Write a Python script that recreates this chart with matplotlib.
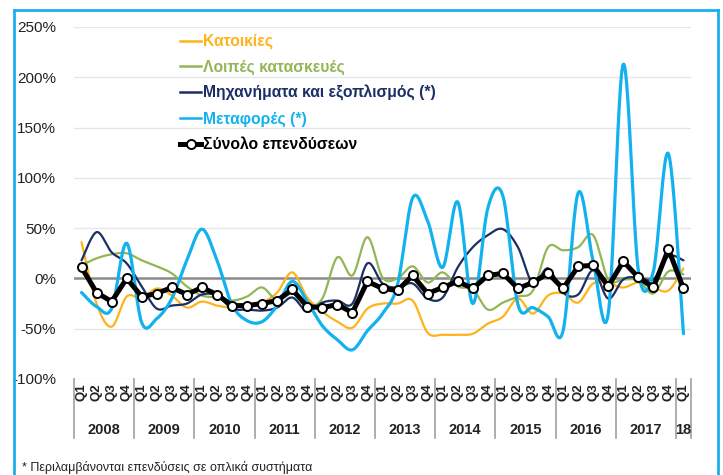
import numpy as np
import matplotlib
matplotlib.use("Agg")
import matplotlib.pyplot as plt
from matplotlib.lines import Line2D

plt.rcParams['font.family'] = ['Liberation Sans', 'DejaVu Sans']

# Τριμηνιαίες μεταβολές 2008Q1 - 2018Q1 (%)
years = ["2008", "2009", "2010", "2011", "2012", "2013", "2014", "2015", "2016", "2017", "18"]
quarters = ["Q1", "Q2", "Q3", "Q4"] * 10 + ["Q1"]

katoikies = [36, -25, -48, -18, -20, -10, -17, -29, -23, -27, -29, -27, -24, -14, 6, -19,
             -33, -43, -49, -30, -25, -25, -22, -54, -56, -56, -55, -45, -38, -20, -35, -17,
             -15, -24, -5, -5, -9, -4, -9, -12, 10]
loipes = [13, 20, 24, 25, 18, 12, 5, -8, -17, -19, -22, -18, -9, -22, -15, -27,
          -20, 21, 3, 41, 1, 0, 12, -4, 6, -8, -11, -31, -24, -18, -12, 31,
          28, 31, 43, -1, -1, -2, -15, 7, 4]
michanimata = [18, 46, 26, 15, -8, -30, -27, -25, -16, -17, -30, -31, -32, -29, -19, -33,
               -24, -22, -25, 15, -5, -9, -5, -20, -19, 11, 31, 43, 49, 31, -5, 10,
               -14, -16, 8, -20, -1, 1, -1, 22, 18]
metafores = [-14, -28, -30, 35, -44, -40, -20, 18, 49, 18, -26, -42, -43, -27, -3, -23,
             -47, -61, -71, -52, -35, -6, 80, 57, 11, 76, -25, 70, 82, -26, -29, -38,
             -52, 85, 17, -35, 213, 8, 7, 124, -55]
synolo = [11, -14, -23, 0, -18, -15, -9, -16, -9, -16, -27, -27, -25, -22, -11, -28,
          -29, -26, -34, -3, -10, -12, 3, -15, -9, -3, -10, 3, 5, -10, -4, 5,
          -10, 12, 13, -8, 17, 1, -9, 29, -10]


def smooth(vals, n=24):
    # Excel-like smoothed line (Bezier through points)
    y = np.asarray(vals, dtype=float)
    x = np.arange(len(y), dtype=float)
    px = np.concatenate([[x[0]], x, [x[-1]]])
    py = np.concatenate([[y[0]], y, [y[-1]]])
    t = np.linspace(0, 1, n)[:-1]
    xs, ys = [], []
    for i in range(1, len(px) - 2):
        p0x, p1x, p2x, p3x = px[i - 1], px[i], px[i + 1], px[i + 2]
        p0y, p1y, p2y, p3y = py[i - 1], py[i], py[i + 1], py[i + 2]
        b1x, b1y = p1x + (p2x - p0x) / 6, p1y + (p2y - p0y) / 6
        b2x, b2y = p2x - (p3x - p1x) / 6, p2y - (p3y - p1y) / 6
        xs.append((1 - t) ** 3 * p1x + 3 * (1 - t) ** 2 * t * b1x + 3 * (1 - t) * t ** 2 * b2x + t ** 3 * p2x)
        ys.append((1 - t) ** 3 * p1y + 3 * (1 - t) ** 2 * t * b1y + 3 * (1 - t) * t ** 2 * b2y + t ** 3 * p2y)
    xs.append([x[-1]])
    ys.append([y[-1]])
    return np.concatenate(xs), np.concatenate(ys)


c_orange = "#FFB21A"
c_green = "#92B656"
c_navy = "#1B2F66"
c_blue = "#12B2EE"

fig = plt.figure(figsize=(7.23, 4.75), dpi=100)
ax = fig.add_axes([74 / 723, 1 - 379 / 475, 617 / 723, 352 / 475])

series = [
    (katoikies, c_orange, 1.6, "Κατοικίες"),
    (loipes, c_green, 1.6, "Λοιπές κατασκευές"),
    (michanimata, c_navy, 1.6, "Μηχανήματα και εξοπλισμός (*)"),
    (metafores, c_blue, 2.3, "Μεταφορές (*)"),
]
handles = []
for vals, col, lw, lab in series:
    sx, sy = smooth(vals)
    ax.plot(sx, sy, color=col, lw=lw, zorder=3, solid_capstyle="round")
    handles.append(Line2D([], [], color=col, lw=1.8))

idx = np.arange(len(synolo))
ax.plot(idx, synolo, color="black", lw=3.6, marker="o", ms=6.5, mfc="white",
        mec="black", mew=1.4, zorder=5)
handles.append(Line2D([], [], color="black", lw=3.6, marker="o", ms=6.5,
                      mfc="white", mec="black", mew=1.4))

ax.set_xlim(-0.5, len(synolo) - 0.5)
ax.set_ylim(-100, 250)
ax.set_yticks(np.arange(-100, 251, 50))
ax.set_yticklabels([f"{v}%" for v in range(-100, 251, 50)], fontsize=11, color="#222222")
for v in range(-100, 251, 50):
    if v == 0:
        ax.axhline(v, color="#8A8A8A", lw=1.8, zorder=2)
    else:
        ax.axhline(v, color="#E6E6E6", lw=1.0, zorder=1)
ax.tick_params(axis="y", length=0, pad=13)

ax.set_xticks(idx)
ax.set_xticklabels(quarters, rotation=90, fontsize=9.5, fontweight="bold", color="#222222")
ax.tick_params(axis="x", length=0, pad=3)
for s in ax.spines.values():
    s.set_visible(False)

# year separators and labels
sep_depth = (438 - 379) / 352
bounds = list(np.arange(-0.5, len(synolo), 4)) + [len(synolo) - 0.5]
trans = ax.get_xaxis_transform()
for b in bounds:
    ax.add_line(Line2D([b, b], [0, -sep_depth], transform=trans, color="#A0A0A0",
                       lw=1.2, clip_on=False))
for k, yr in enumerate(years):
    xc = 4 * k + 1.5 if k < 10 else 40
    ax.text(xc, -(430 - 379) / 352, yr, transform=trans, ha="center", va="center",
            fontsize=10.5, fontweight="bold", color="#222222")

leg = ax.legend(handles, [s[3] for s in series] + ["Σύνολο επενδύσεων"],
                loc="upper left", bbox_to_anchor=(180 / 723, 1 - 34 / 475),
                bbox_transform=fig.transFigure, frameon=False,
                borderpad=0, borderaxespad=0,
                handlelength=1.35, handletextpad=0.1, labelspacing=0.66,
                prop={"weight": "bold", "size": 11.3})
for txt, col in zip(leg.get_texts(), [c_orange, c_green, c_navy, c_blue, "black"]):
    txt.set_color(col)

# outer frame
fr = dict(color="#1AB0EC", lw=2.0, transform=fig.transFigure)
fig.add_artist(Line2D([14 / 723, 14 / 723], [0, 1 - 10 / 475], **fr))
fig.add_artist(Line2D([14 / 723, 718 / 723], [1 - 10 / 475, 1 - 10 / 475], **fr))
fig.add_artist(Line2D([718 / 723, 718 / 723], [1 - 10 / 475, 0], **fr))

fig.text(22 / 723, 1 - 468 / 475, "* Περιλαμβάνονται επενδύσεις σε οπλικά συστήματα",
         fontsize=9, va="center", ha="left", color="#222222")

fig.savefig("out.png", dpi=100)
